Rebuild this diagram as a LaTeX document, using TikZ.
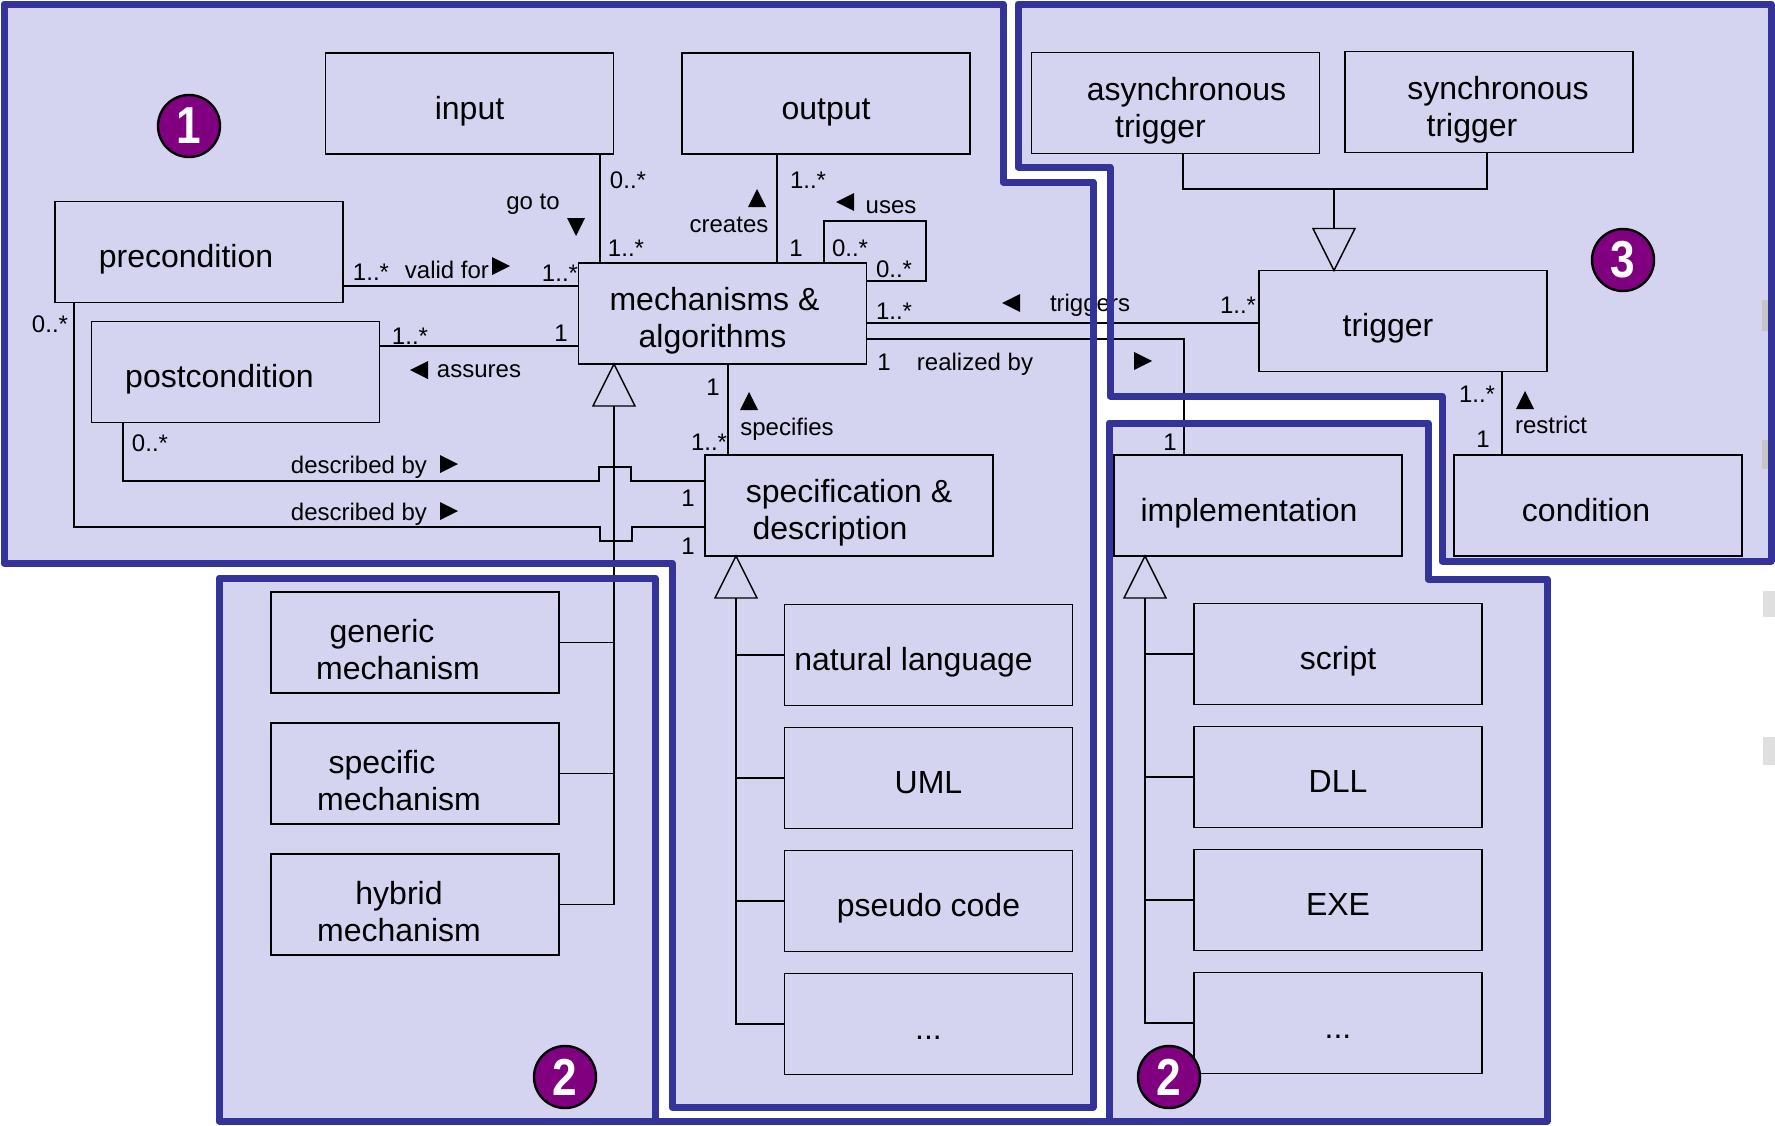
\documentclass[tikz,border=0pt]{standalone}
\usepackage{fontspec}
\setmainfont{Liberation Sans}
\usetikzlibrary{positioning,calc}

\definecolor{regionfill}{RGB}{212,212,240}
\definecolor{regionline}{RGB}{51,51,153}
\definecolor{badgefill}{RGB}{128,0,128}

\tikzset{
  cls/.style={draw, line width=0.7pt, minimum width=144pt, minimum height=50.5pt, inner sep=0pt, outer sep=0pt, align=center, font=\fontsize{16}{18.5}\selectfont},
  mult/.style={inner sep=0pt, font=\fontsize{12}{14}\selectfont, text height=8.6pt, text depth=0pt},
  badge/.style={circle, fill=badgefill, draw=black, line width=1.2pt, minimum size=31pt, inner sep=0pt, text=white, font=\bfseries\fontsize{26}{26}\selectfont},
  conn/.style={line width=0.7pt},
  region/.style={line width=3.5pt, draw=regionline, line join=round},
  inherit/.pic={\draw[line width=0.7pt] (0,0) -- (-21,42) -- (21,42) -- cycle;},
  role/.pic={\fill (-9,-9) -- (9,0) -- (-9,9) -- cycle;},
}

% same first line height in every class box
\newcommand{\boxstrut}{\rule[-3.4pt]{0pt}{22.3pt}}

% region outlines
\newcommand{\areaone}{(4,4) -- (1003,4) -- (1003,182) -- (1093,182) -- (1093,1107) -- (672,1107) -- (672,563) -- (4,563) -- cycle}
\newcommand{\areatwo}{(219,578) -- (655,578) -- (655,1121) -- (1109,1121) -- (1109,423) -- (1428,423) -- (1428,579) -- (1547,579) -- (1547,1121) -- (219,1121) -- cycle}
\newcommand{\areathree}{(1018,4) -- (1771,4) -- (1771,561) -- (1442,561) -- (1442,396) -- (1110,396) -- (1110,167) -- (1018,167) -- cycle}

\begin{document}
\begin{tikzpicture}[x=0.5pt, y=-0.5pt]
      \useasboundingbox (0,0) rectangle (1775,1125);
      \fill[white] (0,0) rectangle (1775,1125);

      % regions
      \fill[regionfill] \areaone;
      \fill[regionfill] \areatwo;
      \fill[regionfill] \areathree;
      \fill[gray!45] (1762,300) rectangle (1770,331);
      \fill[gray!45] (1762,440) rectangle (1770,469);
      \fill[gray!25] (1763,591) rectangle (1775,617);
      \fill[gray!25] (1763,737) rectangle (1775,765);

      % nodes

      %core
      \node[cls] (input) at (469.5,103.5) {\boxstrut input};
      \node[cls] (output) at (826,103.5) {\boxstrut output};
      \node[cls] (precondition) at (199,252) {\boxstrut precondition\hspace*{13pt}};
      \node[cls] (postcondition) at (235.5,372) {\boxstrut postcondition\hspace*{16pt}};
      \node[cls] (mechanisms_algorithms) at (722.5,313.5) {\boxstrut mechanisms \&\hspace*{8pt}\\ algorithms\hspace*{10pt}};
      \node[cls] (specification_description) at (849,505.5) {\boxstrut specification \&\\ description\hspace*{19pt}};

      %triggering
      \node[cls] (asynchronous_trigger) at (1175.5,103) {\boxstrut\hspace*{11pt}asynchronous\\ trigger\hspace*{15pt}};
      \node[cls] (synchronous_trigger) at (1489,102) {\boxstrut\hspace*{9pt}synchronous\\ trigger\hspace*{17pt}};
      \node[cls] (trigger) at (1403,321) {\boxstrut trigger\hspace*{15pt}};
      \node[cls] (condition) at (1598,505.5) {\boxstrut condition\hspace*{12pt}};
      \node[cls] (implementation) at (1258,505.5) {\boxstrut implementation\hspace*{9pt}};

      %kinds of mechanisms
      \node[cls] (generic_mechanism) at (415,642.5) {\boxstrut generic\hspace*{33pt}\\ mechanism\hspace*{17pt}};
      \node[cls, below=15pt of generic_mechanism] (specific_mechanism) {\boxstrut specific\hspace*{33pt}\\ mechanism\hspace*{16pt}};
      \node[cls, below=15pt of specific_mechanism] (hybrid_mechanism) {\boxstrut hybrid\hspace*{16pt}\\ mechanism\hspace*{16pt}};

      %kinds of specifications
      \node[cls] (natural_language) at (928.5,655) {\boxstrut natural language\hspace*{15pt}};
      \node[cls, below=11pt of natural_language] (uml) {\boxstrut UML};
      \node[cls, below=11pt of uml] (pseudo_code) {\boxstrut pseudo code};
      \node[cls, below=11pt of pseudo_code] (specification_more) {\boxstrut ...};

      %kinds of implementations
      \node[cls] (script) at (1338,654) {\boxstrut script};
      \node[cls, below=11pt of script] (dll) {\boxstrut DLL};
      \node[cls, below=11pt of dll] (exe) {\boxstrut EXE};
      \node[cls, below=11pt of exe] (implementation_more) {\boxstrut ...};

      % edges
      \draw[conn] (input.south -| 600,0) -- (mechanisms_algorithms.north -| 600,0);
      \draw[conn] (output.south -| 777,0) -- (mechanisms_algorithms.north -| 777,0);
      \draw[conn] (mechanisms_algorithms.north -| 824,0) |- (926,221) |- (mechanisms_algorithms.east |- 0,281);
      \draw[conn] (precondition.east |- 0,286) -- (mechanisms_algorithms.west |- 0,286);
      \draw[conn] (postcondition.east |- 0,346) -- (mechanisms_algorithms.west |- 0,346);
      \draw[conn] (precondition.south -| 74,0) -- (74,527) -- (600,527) -- (600,541) -- (632,541) -- (632,527) -- (specification_description.west |- 0,527);
      \draw[conn] (postcondition.south -| 123,0) -- (123,481) -- (599,481) -- (599,467) -- (631,467) -- (631,481) -- (specification_description.west |- 0,481);
      \draw[conn] (mechanisms_algorithms.south -| 728,0) -- (specification_description.north -| 728,0);
      \draw[conn] (mechanisms_algorithms.east |- 0,323) -- (trigger.west |- 0,323);
      \draw[conn] (mechanisms_algorithms.east |- 0,339) -| (implementation.north -| 1184,0);
      \draw[conn] (trigger.south -| 1502,0) -- (condition.north -| 1502,0);
      \draw[conn] (asynchronous_trigger.south -| 1183,0) |- (1334,189) -| (synchronous_trigger.south -| 1487,0);
      \draw[conn] (1334,189) -- (1334,229);
      \pic[rotate=180] at (trigger.north -| 1334,0) {inherit};

      % generalisations
      \coordinate (mechanism_kind) at (mechanisms_algorithms.south -| 614,0);
      \pic at (mechanism_kind) {inherit};
      \draw[conn] ($(mechanism_kind)+(0,42)$) |- (hybrid_mechanism.east);
      \draw[conn] (generic_mechanism.east) -- (generic_mechanism.east -| mechanism_kind);
      \draw[conn] (specific_mechanism.east) -- (specific_mechanism.east -| mechanism_kind);

      \coordinate (specification_kind) at (specification_description.south -| 736,0);
      \pic at (specification_kind) {inherit};
      \draw[conn] ($(specification_kind)+(0,42)$) |- (specification_more.west);
      \draw[conn] (natural_language.west) -- (natural_language.west -| specification_kind);
      \draw[conn] (uml.west) -- (uml.west -| specification_kind);
      \draw[conn] (pseudo_code.west) -- (pseudo_code.west -| specification_kind);

      \coordinate (implementation_kind) at (implementation.south -| 1145,0);
      \pic at (implementation_kind) {inherit};
      \draw[conn] ($(implementation_kind)+(0,42)$) |- (implementation_more.west);
      \draw[conn] (script.west) -- (script.west -| implementation_kind);
      \draw[conn] (dll.west) -- (dll.west -| implementation_kind);
      \draw[conn] (exe.west) -- (exe.west -| implementation_kind);

      % multiplicities and roles
      \node[mult] (valid_from) at (371,272) {1..*};
      \node[mult] (valid_label) at (447,270) {valid for};
      \node[mult] (valid_to) at (560,273) {1..*};
      \node[mult] (assures_from) at (410,336) {1..*};
      \node[mult] (assures_to) at (561,333) {1};
      \node[mult] (assures_label) at (479,369) {assures};
      \node[mult] (pre_described) at (50,324) {0..*};
      \node[mult] (post_described) at (150,443) {0..*};
      \node[mult] (described_upper) at (359,465) {described by};
      \node[mult] (described_lower) at (359,512) {described by};
      \node[mult] (described_one_a) at (688,498) {1};
      \node[mult] (described_one_b) at (688,546) {1};
      \node[mult] (specifies_to) at (709,442) {1..*};
      \node[mult] (specifies_from) at (713,387) {1};
      \node[mult] (specifies_label) at (787,427) {specifies};
      \node[mult] (goto_label) at (533,201) {go to};
      \node[mult] (goto_from) at (628,180) {0..*};
      \node[mult] (goto_to) at (626,248) {1..*};
      \node[mult] (creates_label) at (729,224) {creates};
      \node[mult] (creates_from) at (808,180) {1..*};
      \node[mult] (creates_to) at (796,248) {1};
      \node[mult] (uses_label) at (891,205) {uses};
      \node[mult] (uses_from) at (850,248) {0..*};
      \node[mult] (uses_to) at (894,269) {0..*};
      \node[mult] (triggers_to) at (894,311) {1..*};
      \node[mult] (triggers_label) at (1090,303) {triggers};
      \node[mult] (triggers_from) at (1238,305) {1..*};
      \node[mult] (realized_from) at (884,362) {1};
      \node[mult] (realized_label) at (975,362) {realized by};
      \node[mult] (realized_to) at (1170,442) {1};
      \node[mult] (restrict_from) at (1477,394) {1..*};
      \node[mult] (restrict_label) at (1551,425) {restrict};
      \node[mult] (restrict_to) at (1483,439) {1};

      \pic at (501,266) {role};
      \pic[rotate=180] at (419,370) {role};
      \pic[rotate=-90] at (576,227) {role};
      \pic[rotate=90] at (757,198) {role};
      \pic[rotate=180] at (845,202) {role};
      \pic[rotate=180] at (1011,303) {role};
      \pic at (1143,361) {role};
      \pic[rotate=90] at (749,401) {role};
      \pic at (449,464) {role};
      \pic at (449,511) {role};
      \pic[rotate=90] at (1525,400) {role};

      % badges
      \node[badge] (badge_one) at (189,126) {\scalebox{0.85}[1]{1}};
      \node[badge] (badge_two_left) at (565,1077) {\scalebox{0.85}[1]{2}};
      \node[badge] (badge_two_right) at (1169,1077) {\scalebox{0.85}[1]{2}};
      \node[badge] (badge_three) at (1623,260) {\scalebox{0.85}[1]{3}};

      % region borders
      \draw[region] \areaone;
      \draw[region] \areatwo;
      \draw[region] \areathree;

\end{tikzpicture}
\end{document}
